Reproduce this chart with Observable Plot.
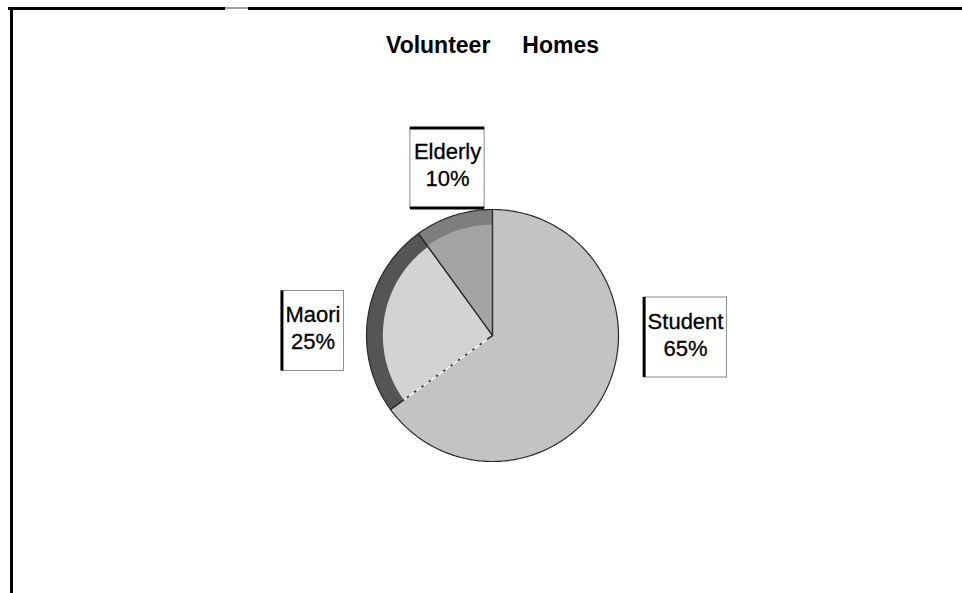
<!DOCTYPE html>
<html><head><meta charset="utf-8">
<script src="https://cdn.jsdelivr.net/npm/d3@7"></script>
<script src="https://cdn.jsdelivr.net/npm/@observablehq/plot@0.6"></script>
<style>
body{margin:0;background:#fff;}
#wrap{position:relative;width:962px;height:593px;overflow:hidden;background:#fff;}
.fr{position:absolute;}
</style></head><body><div id="wrap"></div>
<script>
// ---- data ----
const title = "Volunteer Homes";
const categories = ["Student", "Maori", "Elderly"];
const values = [65, 25, 10];
const valueLabels = ["65%", "25%", "10%"];

// ---- layout / style ----
const W = 962, H = 593, CX = 492, CY = 335, R = 126;
const FONT = "'Liberation Sans', Arial, Helvetica, sans-serif";
const outerFill = {Student: "#c3c3c3", Maori: "#555555", Elderly: "#7e7e7e"};
const innerFill = {Student: "#c3c3c3", Maori: "#d3d3d3", Elderly: "#a4a4a4"};
const innerR = {Student: 1, Maori: 0.87, Elderly: 0.88};
const labelAt = {Student: [1.532, 0.016], Maori: [-1.425, -0.036], Elderly: [-0.357, -1.329]};
const thickSide = {Student: "l", Maori: "l", Elderly: "tb"};
const LABEL_SIZE = 22;

const data = categories.map((c, i) => ({category: c, value: values[i], pct: valueLabels[i]}));
const arcs = d3.pie().sort(null).value(d => d.value)(data);

function wedge(a, r) {
  const pts = [{x: 0, y: 0}];
  const n = Math.max(2, Math.ceil((a.endAngle - a.startAngle) / (Math.PI / 180)));
  for (let i = 0; i <= n; i++) {
    const t = a.startAngle + (a.endAngle - a.startAngle) * i / n;
    pts.push({x: r * Math.sin(t), y: -r * Math.cos(t)});
  }
  pts.push({x: 0, y: 0});
  return pts;
}

// measure label widths
const ctx = document.createElement("canvas").getContext("2d");
ctx.font = LABEL_SIZE + "px " + FONT;
const boxes = data.map(d => {
  const w = Math.max(ctx.measureText(d.category).width, ctx.measureText(d.pct).width) + 7;
  const [lx, ly] = labelAt[d.category];
  return {...d, lx, ly, x1: lx - w / 2 / R, x2: lx + w / 2 / R, y1: ly - 40 / R, y2: ly + 40 / R,
          text: d.category + "\n" + d.pct, side: thickSide[d.category]};
});

const marks = [];
arcs.forEach(a => {
  const c = a.data.category;
  marks.push(Plot.line(wedge(a, 1), {x: "x", y: "y", fill: outerFill[c], stroke: "none"}));
  if (innerR[c] < 1) marks.push(Plot.line(wedge(a, innerR[c]), {x: "x", y: "y", fill: innerFill[c], stroke: "none"}));
});
arcs.forEach(a => {
  marks.push(Plot.line(wedge(a, 1), {x: "x", y: "y", fill: "none", stroke: "#2a2a2a", strokeWidth: 1.2}));
});
// light dashed seam on the Student / Maori boundary
const seam = arcs[1];
marks.push(Plot.line([0.06, 0.86].map(r => ({x: r * Math.sin(seam.startAngle), y: -r * Math.cos(seam.startAngle)})),
  {x: "x", y: "y", stroke: "#f4f4f4", strokeWidth: 2, strokeDasharray: "5,4"}));

// label boxes
marks.push(Plot.rect(boxes, {x1: "x1", x2: "x2", y1: "y1", y2: "y2", fill: "white", stroke: "#8a8a8a", strokeWidth: 1}));
marks.push(Plot.ruleX(boxes.filter(b => b.side === "l"), {x: "x1", y1: "y1", y2: "y2", stroke: "#000", strokeWidth: 3}));
marks.push(Plot.ruleY(boxes.filter(b => b.side === "tb"), {y: "y1", x1: "x1", x2: "x2", stroke: "#000", strokeWidth: 3}));
marks.push(Plot.ruleY(boxes.filter(b => b.side === "tb"), {y: "y2", x1: "x1", x2: "x2", stroke: "#000", strokeWidth: 3}));
marks.push(Plot.text(boxes, {x: "lx", y: "ly", text: "text", fontSize: LABEL_SIZE, lineHeight: 27 / LABEL_SIZE, lineAnchor: "bottom", dy: 18, fill: "#000", stroke: "#000", strokeWidth: 0.3}));

// title
marks.push(Plot.text([{t: title.replace(" ", "\u00a0".repeat(5))}], {x: () => 0, text: "t", frameAnchor: "top", lineAnchor: "bottom", dy: 52, fontSize: 23, fontWeight: "bold", fill: "#000"}));

const chart = Plot.plot({
  width: W, height: H, margin: 0,
  style: {fontFamily: FONT, background: "transparent"},
  x: {domain: [-CX / R, (W - CX) / R], range: [0, W], axis: null},
  y: {domain: [-CY / R, (H - CY) / R], range: [0, H], axis: null},
  marks
});
const wrap = document.getElementById("wrap");
wrap.appendChild(chart);

// page frame (scanned border)
[[8, 7, 217, 3, "#000"], [225, 7, 23, 2, "#a0a0a0"], [248, 7, 714, 3, "#000"], [10, 7, 3, 586, "#000"]].forEach(([l, t, w, h, c]) => {
  const d = document.createElement("div");
  d.className = "fr";
  Object.assign(d.style, {left: l + "px", top: t + "px", width: w + "px", height: h + "px", background: c});
  wrap.appendChild(d);
});
</script></body></html>
